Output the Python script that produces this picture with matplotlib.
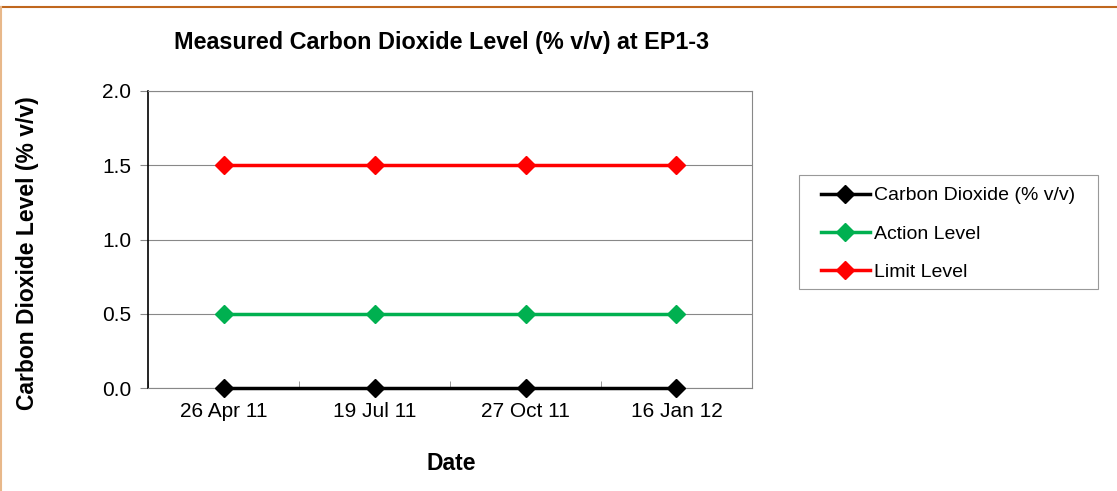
import matplotlib
matplotlib.use("Agg")
import matplotlib.pyplot as plt
from matplotlib.lines import Line2D
from matplotlib.patches import Rectangle

dates = ["26 Apr 11", "19 Jul 11", "27 Oct 11", "16 Jan 12"]
co2 = [0.0, 0.0, 0.0, 0.0]
action = [0.5, 0.5, 0.5, 0.5]
limit = [1.5, 1.5, 1.5, 1.5]
yticks = [0.0, 0.5, 1.0, 1.5, 2.0]

plt.rcParams['font.family'] = ['Liberation Sans', 'DejaVu Sans']

W, H = 1117, 491
fig = plt.figure(figsize=(W / 100, H / 100), dpi=100)
ax = fig.add_axes([148 / W, 1 - 388 / H, (752 - 148) / W, (388 - 91) / H])

x = list(range(len(dates)))
ax.plot(x, co2, color="black", lw=2.5, marker="D", ms=9, label="Carbon Dioxide (% v/v)", zorder=5, clip_on=False)
ax.plot(x, action, color="#00B050", lw=2.5, marker="D", ms=9, label="Action Level", zorder=4)
ax.plot(x, limit, color="#FF0000", lw=2.5, marker="D", ms=9, label="Limit Level", zorder=4)

ax.set_xlim(-0.5, 3.5)
ax.set_ylim(0, 2.0)
ax.set_yticks(yticks)
ax.set_yticklabels(["%.1f" % v for v in yticks])
ax.set_xticks(x)
ax.set_xticklabels(dates)
ax.set_xticks([-0.5, 0.5, 1.5, 2.5, 3.5], minor=True)
ax.tick_params(axis="x", which="major", length=0, pad=10, labelsize=15)
ax.tick_params(axis="x", which="minor", length=5, color="#888888", direction="in")
ax.tick_params(axis="y", length=6, color="#888888", pad=6, labelsize=15)
ax.grid(axis="y", color="#888888", lw=0.8)
ax.set_axisbelow(True)
for s in ["top", "right", "bottom"]:
    ax.spines[s].set_color("#888888")
    ax.spines[s].set_linewidth(0.8)
ax.spines["left"].set_color("black")
ax.spines["left"].set_linewidth(1.2)

fig.text(442 / W, 1 - 42 / H, "Measured Carbon Dioxide Level (% v/v) at EP1-3",
         ha="center", va="center", fontsize=16.8, fontweight="bold")
fig.text(28 / W, 1 - 253 / H, "Carbon Dioxide Level (% v/v)", rotation=90,
         ha="center", va="center", fontsize=16.5, fontweight="bold")
fig.text(451 / W, 1 - 463 / H, "Date", ha="center", va="center",
         fontsize=16.5, fontweight="bold")

# legend box drawn separately so the padding matches
fig.add_artist(Rectangle((799 / W, 1 - 289 / H), (1098 - 799) / W, (289 - 175) / H,
                         transform=fig.transFigure, fill=True, facecolor="white",
                         edgecolor="#999999", lw=0.8, zorder=3))
leg = fig.legend(loc="center left", bbox_to_anchor=(821 / W, 1 - 234 / H),
                 fontsize=14, frameon=False,
                 handlelength=2.5, handletextpad=0.25, labelspacing=1.07,
                 borderpad=0, borderaxespad=0)
leg.set_zorder(4)

# outer chart border: top and left only
fig.add_artist(Line2D([0, 1], [1 - 7 / H, 1 - 7 / H], transform=fig.transFigure,
                      color="#C0671E", lw=1.5))
fig.add_artist(Line2D([0.5 / W, 0.5 / W], [0, 1 - 7 / H], transform=fig.transFigure,
                      color="#E8B88A", lw=1.5))

fig.savefig("out.png", dpi=100)
